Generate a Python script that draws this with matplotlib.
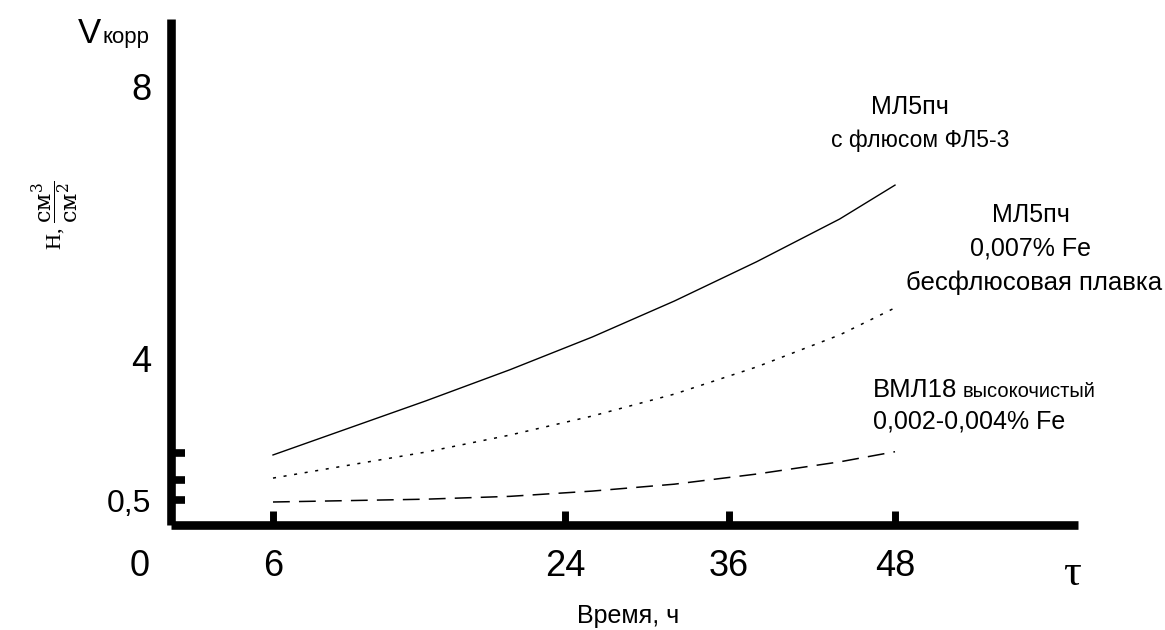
import numpy as np
import matplotlib
matplotlib.use("Agg")
import matplotlib.pyplot as plt

plt.rcParams["font.family"] = ["Liberation Sans", "DejaVu Sans"]

# время, ч
hours = [6, 15.4, 20.6, 26, 32, 38, 44, 48]
# скорость коррозии по трём сплавам
v_flux = [1.61, 2.94, 3.71, 4.31, 4.84, 5.42, 6.05, 6.55]       # МЛ5пч с флюсом ФЛ5-3
v_noflux = [1.04, 1.68, 2.10, 2.57, 3.11, 3.78, 4.34, 4.74]     # МЛ5пч бесфлюсовая плавка
v_pure = [0.46, 0.52, 0.59, 0.72, 0.89, 1.14, 1.44, 1.69]       # ВМЛ18 высокочистый

x_ticks = [6, 24, 36, 48]
x_labels = ["6", "24", "36", "48"]
y_ticks = [0.5, 4, 8]
y_labels = ["0,5", "4", "8"]
y_marks = [0.5, 1.0, 1.65]

# неравномерная разметка осей (как на исходном графике)
x_knots = [0, 6, 24, 36, 48, 61.3]
x_pos = [0, 102, 394, 558, 724, 907]
y_knots = [0, 0.5, 4, 9]
y_pos = [0, 25, 167, 506]

W, H = 1165, 630


def fx(v):
    return np.interp(v, x_knots, x_pos)


def fx_inv(p):
    return np.interp(p, x_pos, x_knots)


def fy(v):
    return np.interp(v, y_knots, y_pos)


def fy_inv(p):
    return np.interp(p, y_pos, y_knots)


def px(x, y):
    return x / W, 1 - y / H


fig = plt.figure(figsize=(W / 100, H / 100), dpi=100)
ax = fig.add_axes([171 / W, 1 - 525 / H, 907 / W, 506 / H])
ax.set_xscale("function", functions=(fx, fx_inv))
ax.set_yscale("function", functions=(fy, fy_inv))
ax.set_xlim(0, 61.3)
ax.set_ylim(0, 9)

ax.plot(hours, v_flux, color="k", lw=1.0)
ax.plot(hours, v_noflux, color="k", lw=1.1, linestyle=(0, (2, 5)))
ax.plot(hours, v_pure, color="k", lw=1.1, linestyle=(0, (11, 6)))

for s in ["top", "right"]:
    ax.spines[s].set_visible(False)
for s in ["left", "bottom"]:
    ax.spines[s].set_linewidth(6.2)
    ax.spines[s].set_capstyle("butt")

ax.set_xticks(x_ticks)
ax.set_xticklabels(x_labels)
ax.tick_params(axis="x", direction="in", length=10, width=5, pad=17, labelsize=26)
ax.set_xticks([], minor=True)

ax.yaxis.remove_overlapping_locs = False
ax.set_yticks(y_ticks)
ax.set_yticklabels(y_labels)
ax.tick_params(axis="y", which="major", length=0, pad=14, labelsize=26)
ax.yaxis.get_ticklabels()[0].set_fontsize(23)
ax.set_yticks(y_marks, minor=True)
ax.tick_params(axis="y", which="minor", direction="in", length=10, width=5.5)

# подписи осей
fig.text(*px(78, 43), "V", fontsize=25, ha="left", va="baseline")
fig.text(*px(103, 43), "корр", fontsize=16, ha="left", va="baseline")
fig.text(*px(140, 566), "0", fontsize=26, ha="center", va="center")
fig.text(*px(628, 616), "Время, ч", fontsize=18, ha="center", va="center")
fig.text(*px(1072, 574), "τ", fontsize=32, family="Liberation Serif", ha="center", va="center")
fig.text(*px(55, 215), r"Н, $\dfrac{\mathrm{см}^3}{\mathrm{см}^2}$", rotation=90,
         fontsize=16, family="Liberation Serif", math_fontfamily="dejavuserif",
         ha="center", va="center")

# подписи кривых
fig.text(*px(910, 107), "МЛ5пч", fontsize=18, ha="center", va="center")
fig.text(*px(920, 141), "с флюсом ФЛ5-3", fontsize=16.5, ha="center", va="center")
fig.text(*px(1031, 215), "МЛ5пч", fontsize=18, ha="center", va="center")
fig.text(*px(1031, 249), "0,007% Fe", fontsize=18, ha="center", va="center")
fig.text(*px(1034, 283), "бесфлюсовая плавка", fontsize=18.5, ha="center", va="center")
fig.text(*px(873, 397), "ВМЛ18", fontsize=18.5, ha="left", va="baseline")
fig.text(*px(963, 397), "высокочистый", fontsize=14.5, ha="left", va="baseline")
fig.text(*px(873, 421), "0,002-0,004% Fe", fontsize=18, ha="left", va="center")

fig.savefig("out.png", dpi=100)
